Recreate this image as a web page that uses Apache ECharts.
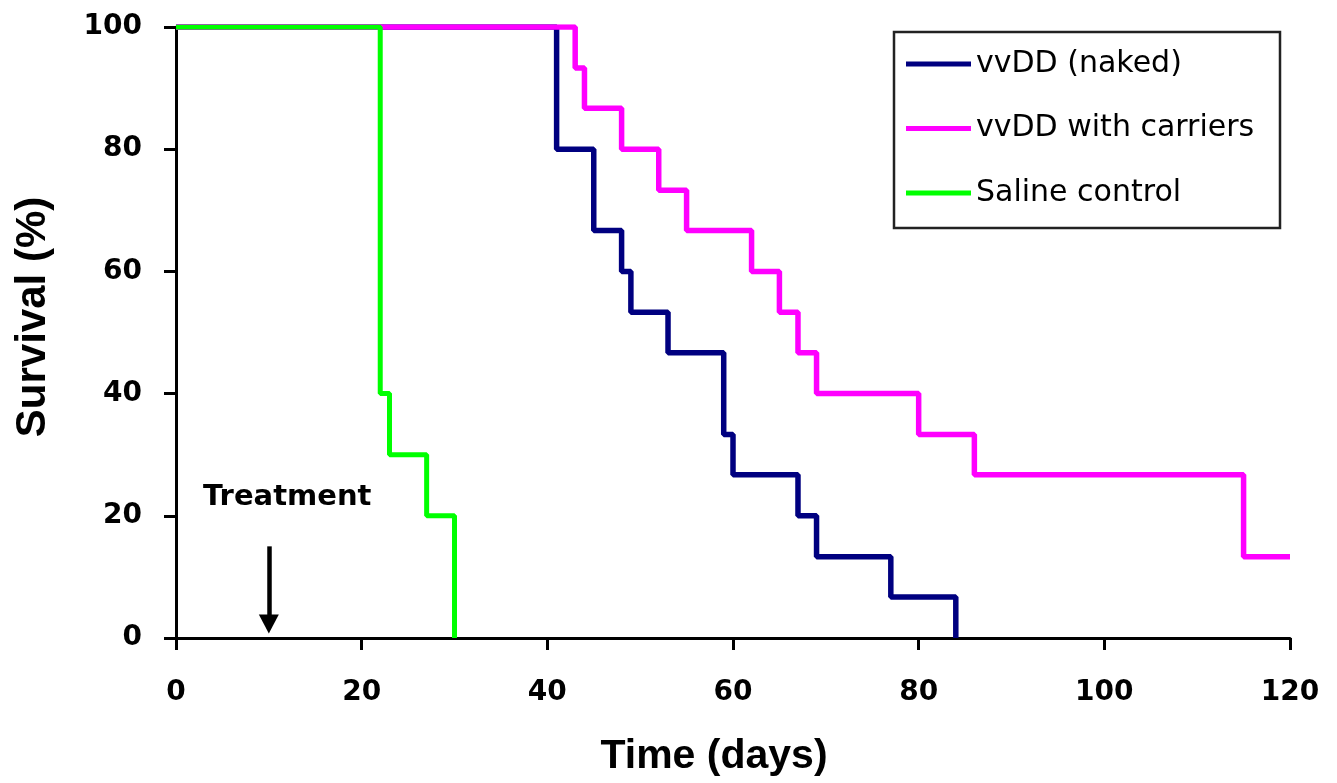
<!DOCTYPE html>
<html>
<head>
<meta charset="utf-8">
<title>Survival</title>
<script src="https://cdn.jsdelivr.net/npm/echarts@6/dist/echarts.min.js"></script>
<style>
  html, body { margin: 0; padding: 0; background: #fff; }
  #main { width: 1337px; height: 783px; }
</style>
</head>
<body>
<div id="main"></div>
<script>
// step survival curves, [day, % surviving]
var naked = [[0, 100], [41, 80], [45, 66.7], [48, 60], [49, 53.3], [53, 46.7], [59, 33.3], [60, 26.7], [67, 20], [69, 13.3], [77, 6.7], [84, 0]];
var carriers = [[0, 100], [43, 93.3], [44, 86.7], [48, 80], [52, 73.3], [55, 66.7], [62, 60], [65, 53.3], [67, 46.7], [69, 40], [80, 33.3], [86, 26.7], [115, 13.3], [120, 13.3]];
var saline = [[0, 100], [22, 40], [23, 30], [27, 20], [30, 0]];
var seriesNames = ['vvDD (naked)', 'vvDD with carriers', 'Saline control'];
var treatmentDay = 10;
var arrowFromTo = [15, 2.3];

var chart = echarts.init(document.getElementById('main'));

var axisLine = { lineStyle: { color: '#000', width: 3 } };
var axisTick = { show: true, inside: false, length: 12, lineStyle: { color: '#000', width: 3 } };
var tickFont = { color: '#000', fontFamily: 'DejaVu Sans', fontWeight: 'bold', fontSize: 28 };

function curve(name, data, color, width) {
  return {
    name: name,
    type: 'line',
    step: 'end',
    data: data,
    showSymbol: false,
    symbol: 'none',
    lineStyle: { color: color, width: width },
    itemStyle: { color: color },
    silent: true
  };
}

var s1 = curve(seriesNames[0], naked, '#000080', 5.5);
var s2 = curve(seriesNames[1], carriers, '#ff00ff', 5.5);
var s3 = curve(seriesNames[2], saline, '#00ff00', 5);

// treatment arrow
s1.markLine = {
  silent: true,
  symbol: ['none', 'triangle'],
  symbolSize: [20, 19],
  label: { show: false },
  lineStyle: { color: '#000', width: 4.5, type: 'solid' },
  data: [[{ coord: [treatmentDay, arrowFromTo[0]] }, { coord: [treatmentDay, arrowFromTo[1]] }]]
};

chart.setOption({
  animation: false,
  backgroundColor: '#fff',
  grid: { left: 176, top: 27, right: 47, bottom: 145, containLabel: false },
  xAxis: {
    type: 'value',
    min: 0, max: 120, interval: 20,
    axisLine: axisLine,
    axisTick: axisTick,
    splitLine: { show: false },
    axisLabel: Object.assign({ margin: 41 }, tickFont)
  },
  yAxis: {
    type: 'value',
    min: 0, max: 100, interval: 20,
    axisLine: Object.assign({ show: true }, axisLine),
    axisTick: axisTick,
    splitLine: { show: false },
    axisLabel: Object.assign({ margin: 34 }, tickFont)
  },
  legend: {
    data: seriesNames,
    orient: 'vertical',
    left: 906,
    top: 47,
    padding: 0,
    itemGap: 30.5,
    icon: 'rect',
    itemWidth: 65,
    itemHeight: 5,
    selectedMode: false,
    textStyle: { color: '#000', fontFamily: 'DejaVu Sans', fontSize: 30, lineHeight: 34 }
  },
  graphic: [
    {
      type: 'rect',
      shape: { x: 894, y: 32, width: 386, height: 196 },
      style: { fill: 'none', stroke: '#222', lineWidth: 2.5 },
      silent: true
    },
    {
      type: 'text',
      x: 203, y: 497,
      style: { text: 'Treatment', fill: '#000', font: 'bold 29px "DejaVu Sans"', verticalAlign: 'middle' },
      silent: true
    },
    {
      type: 'text',
      x: 714, y: 757,
      style: { text: 'Time (days)', fill: '#000', font: 'bold 41px "Liberation Sans"', align: 'center', verticalAlign: 'middle' },
      silent: true
    },
    {
      type: 'text',
      x: 33, y: 317,
      rotation: Math.PI / 2,
      style: { text: 'Survival (%)', fill: '#000', font: 'bold 42px "Liberation Sans"', align: 'center', verticalAlign: 'middle' },
      silent: true
    }
  ],
  series: [s1, s2, s3]
});
</script>
</body>
</html>
